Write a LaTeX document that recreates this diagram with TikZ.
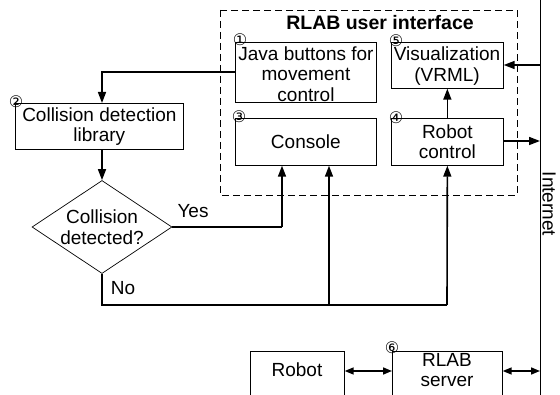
\documentclass[tikz,border=0pt]{standalone}
\usepackage{fontspec}
\setmainfont{Liberation Sans}
\newfontfamily\symfont{DejaVu Sans}
\usetikzlibrary{arrows.meta,shapes.geometric}
\begin{document}
\begin{tikzpicture}[x=1pt,y=-1pt,
  every node/.style={font=\fontsize{19}{20.5}\selectfont, inner sep=0pt},
  blk/.style={draw, line width=0.7pt, align=center, anchor=north west},
  flow/.style={line width=1.6pt, -{Triangle[length=11pt,width=8pt]}},
  flowline/.style={line width=1.6pt},
  both/.style={line width=1.6pt, {Triangle[length=9pt,width=7pt]}-{Triangle[length=9pt,width=7pt]}},
  tag/.style={font=\symfont\fontsize{16}{16}\selectfont, inner sep=0pt}]
\useasboundingbox (0,0) rectangle (560,395);

% user interface frame
\draw[line width=0.8pt, dash pattern=on 7pt off 4pt] (220,10) rectangle (517,195);
\node[font=\bfseries\fontsize{19.5}{20}\selectfont] (title) at (380,23) {RLAB user interface};

% blocks
\node[blk, minimum width=141pt, minimum height=60pt] (java) at (235,42) {};
\node[align=center] (javatext) at (306,74) {Java buttons for\\movement\\control};
\node[blk, minimum width=112pt, minimum height=46pt] (vis) at (391,42) {};
\node[align=center] (vistext) at (447,66) {Visualization\\(VRML)};
\node[blk, minimum width=141pt, minimum height=47pt] (cons) at (235,118) {Console};
\node[blk, minimum width=112pt, minimum height=47pt] (rc) at (391,118)
  {Robot\\control};
\node[blk, minimum width=168pt, minimum height=46pt] (lib) at (15,103)
  {Collision detection\\library};
\node[draw, line width=0.7pt, diamond, minimum width=140pt, minimum height=93pt,
  aspect=1.5, align=center] (dec) at (102,227) {Collision\\detected?};
\node[blk, minimum width=94pt, minimum height=50pt] (robot) at (250,351) {};
\node (robottext) at (297,370) {Robot};
\node[blk, minimum width=110pt, minimum height=50pt] (srv) at (392,351) {};
\node[align=center] (srvtext) at (447,370) {RLAB\\server};

% number tags
\node[tag] (t1) at (240,40) {①};
\node[tag] (t2) at (16,102) {②};
\node[tag] (t3) at (239,117) {③};
\node[tag] (t4) at (396,118) {④};
\node[tag] (t5) at (396,41) {⑤};
\node[tag] (t6) at (392,348) {⑥};

% internet backbone
\coordinate (netTop) at (540,0);
\coordinate (netBot) at (540,395);
\draw[line width=0.8pt] (netTop) -- (netBot);
\node[rotate=-90] (net) at (549,204) {Internet};

% connectors
\coordinate (netVis) at (540,65);
\coordinate (netRc) at (540,141);
\coordinate (netSrv) at (540,371);
\draw[flow] (netVis) -- (vis.east |- netVis);
\draw[flow] (rc.east |- netRc) -- (netRc);
\draw[flow] (rc.north) -- (vis.south);

\draw[flow] (java.west |- 0,72) -| (lib.north -| 102,0);
\draw[flow] (lib.south -| dec.north) -- (dec.north);

\coordinate (yesX) at (282,227);
\draw[flowline] (dec.east) -- (yesX);
\draw[flow] (yesX) -- (cons.south -| yesX);
\node (yes) at (193,211) {Yes};

\coordinate (noC) at (102,305);
\coordinate (noM) at (329,305);
\coordinate (noR) at (447,305);
\draw[flowline] (dec.south) -- (noC) -- (noR);
\draw[flow] (noM) -- (cons.south -| noM);
\draw[flow] (noR) -- (rc.south);
\node (no) at (123,288) {No};

\draw[both] (robot.east |- 0,371) -- (srv.west |- 0,371);
\draw[both] (srv.east |- netSrv) -- (netSrv);
\end{tikzpicture}
\end{document}
